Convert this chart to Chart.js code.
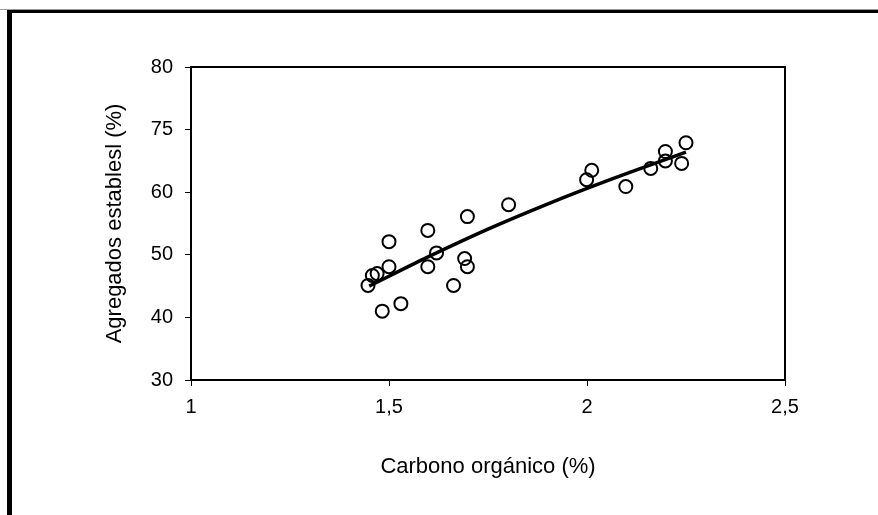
<!DOCTYPE html>
<html>
<head>
<meta charset="utf-8">
<script src="https://cdn.jsdelivr.net/npm/chart.js@4/dist/chart.umd.min.js"></script>
<style>
  html, body { margin: 0; padding: 0; background: #fff; }
  #wrap { position: relative; width: 878px; height: 515px; overflow: hidden; }
  #frame { position: absolute; left: 7px; top: 10px; right: -10px; bottom: -10px;
           border-top: 3px solid #000; border-left: 5px solid #000; pointer-events: none; }
  #hair { position: absolute; left: 0; top: 9px; width: 878px; height: 1px; background: #999; }
</style>
</head>
<body>
<div id="wrap">
  <canvas id="c" width="878" height="515"></canvas>
  <div id="hair"></div>
  <div id="frame"></div>
</div>
<script>
// carbono orgánico (%) vs agregados estables (%)
const carbono   = [1.447, 1.458, 1.470, 1.483, 1.500, 1.500, 1.530, 1.598, 1.598, 1.620, 1.663, 1.691,
                   1.698, 1.698, 1.802, 1.999, 2.012, 2.098, 2.161, 2.198, 2.198, 2.239, 2.250];
const agregados = [45.1, 46.7, 47.0, 41.0, 48.1, 52.1, 42.2, 53.9, 48.1, 50.3, 45.1, 49.4,
                   48.1, 56.1, 58.0, 62.0, 63.5, 60.9, 63.8, 66.5, 65.0, 64.6, 67.9];

// trend line
const trendX = [1.45, 1.60, 1.75, 1.90, 2.05, 2.25];
const trendY = [45.0, 49.7, 54.1, 58.1, 61.8, 66.4];

const xTicks = ["1", "1,5", "2", "2,5"];
const yTicks = ["30", "40", "50", "60", "75", "80"];

const fnt = { family: "'Liberation Sans', Arial, sans-serif", size: 20 };
const titleFnt = { family: "'Liberation Sans', Arial, sans-serif", size: 22 };

const boxPlugin = {
  id: "box",
  beforeDatasetsDraw(chart) {
    const { ctx, chartArea: a } = chart;
    ctx.save();
    ctx.strokeStyle = "#000";
    ctx.lineWidth = 2;
    ctx.strokeRect(a.left, a.top, a.right - a.left, a.bottom - a.top);
    ctx.restore();
  }
};

new Chart(document.getElementById("c"), {
  type: "scatter",
  data: {
    datasets: [
      {
        type: "line",
        data: trendX.map((x, i) => ({ x, y: trendY[i] })),
        borderColor: "#000",
        borderWidth: 3.5,
        pointRadius: 0,
        cubicInterpolationMode: "monotone",
        fill: false
      },
      {
        data: carbono.map((x, i) => ({ x, y: agregados[i] })),
        pointRadius: 6.5,
        pointBorderWidth: 2,
        pointBorderColor: "#000",
        pointBackgroundColor: "rgba(0,0,0,0)"
      }
    ]
  },
  options: {
    responsive: false,
    animation: false,
    layout: { padding: { left: 0, top: 67, right: 93, bottom: 0 } },
    plugins: { legend: { display: false }, tooltip: { enabled: false } },
    scales: {
      x: {
        type: "linear", min: 1, max: 2.5,
        afterFit: s => { s.height = 135; },
        afterBuildTicks: s => { s.ticks = [1, 1.5, 2, 2.5].map(v => ({ value: v })); },
        ticks: { color: "#000", font: fnt, padding: 9, maxRotation: 0,
                 callback: (v, i) => xTicks[i] },
        grid: { drawOnChartArea: false, tickLength: 6, color: "#000", tickColor: "#000" },
        border: { color: "#000", width: 2 },
        title: { display: true, text: "Carbono orgánico (%)", color: "#000", font: titleFnt,
                 padding: { top: 0, bottom: 35 } }
      },
      y: {
        type: "linear", min: 30, max: 80,
        afterFit: s => { s.width = 191; },
        afterBuildTicks: s => { s.ticks = [30, 40, 50, 60, 70, 80].map(v => ({ value: v })); },
        ticks: { color: "#000", font: fnt, padding: 12,
                 callback: (v, i) => yTicks[i] },
        grid: { drawOnChartArea: false, tickLength: 6, color: "#000", tickColor: "#000" },
        border: { color: "#000", width: 2 },
        title: { display: true, text: "Agregados establesl (%)", color: "#000", font: titleFnt,
                 padding: { top: 102, bottom: 0 } }
      }
    }
  },
  plugins: [boxPlugin]
});
</script>
</body>
</html>
